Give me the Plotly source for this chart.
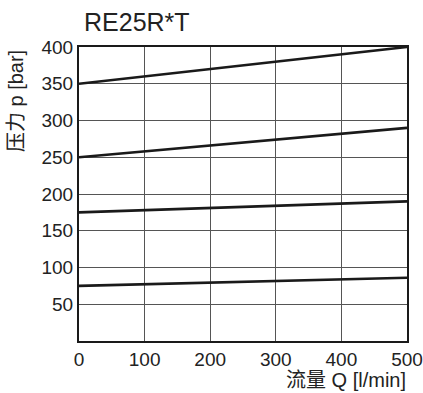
import plotly.graph_objects as go

# Pressure vs. flow characteristic curves (start/end points of each setting)
flow = [0, 500]
p_350 = [350, 400]
p_250 = [250, 290]
p_175 = [175, 190]
p_75 = [75, 86]

x_ticks = [0, 100, 200, 300, 400, 500]
y_ticks = [50, 100, 150, 200, 250, 300, 350, 400]

FONT = "Liberation Sans, Arial, Helvetica, sans-serif"
CJK = "Liberation Sans, Noto Sans CJK SC, sans-serif"

fig = go.Figure()
for series in (p_350, p_250, p_175, p_75):
    fig.add_trace(go.Scatter(
        x=flow, y=series, mode="lines",
        line=dict(color="#1a1a1a", width=2.6),
        showlegend=False, hoverinfo="skip", cliponaxis=False,
    ))

axis_common = dict(
    showline=True, linecolor="#1a1a1a", linewidth=2, mirror=True,
    showgrid=True, gridcolor="#555555", gridwidth=1.3,
    zeroline=False, ticks="", automargin=False, ticklabeloverflow="allow",
    tickfont=dict(family=FONT, size=19, color="#222"),
)

fig.update_xaxes(range=[0, 500], tickvals=x_ticks, ticktext=[str(v) for v in x_ticks],
                 **axis_common)
fig.update_yaxes(range=[0, 400], tickvals=y_ticks, ticktext=[str(v) for v in y_ticks],
                 **axis_common)

fig.add_annotation(text="RE25R*T", xref="paper", yref="paper", x=0.01, y=1.0,
                   xanchor="left", yanchor="bottom", yshift=9, showarrow=False,
                   font=dict(family=FONT, size=25, color="#222"))
fig.add_annotation(text="流量 Q [l/min]", xref="paper", yref="paper", x=1.0, y=0,
                   xanchor="right", yanchor="middle", yshift=-39, xshift=1, showarrow=False,
                   font=dict(family=CJK, size=20, color="#222"))
fig.add_annotation(text="压力 p [bar]", xref="paper", yref="paper", x=0, y=0.816,
                   xanchor="center", yanchor="middle", xshift=-63, textangle=-90,
                   showarrow=False, font=dict(family=CJK, size=20, color="#222"))

fig.update_layout(
    width=423, height=393,
    margin=dict(l=79, r=16, t=47, b=52),
    paper_bgcolor="white", plot_bgcolor="white",
)

fig.write_html("out.html")
